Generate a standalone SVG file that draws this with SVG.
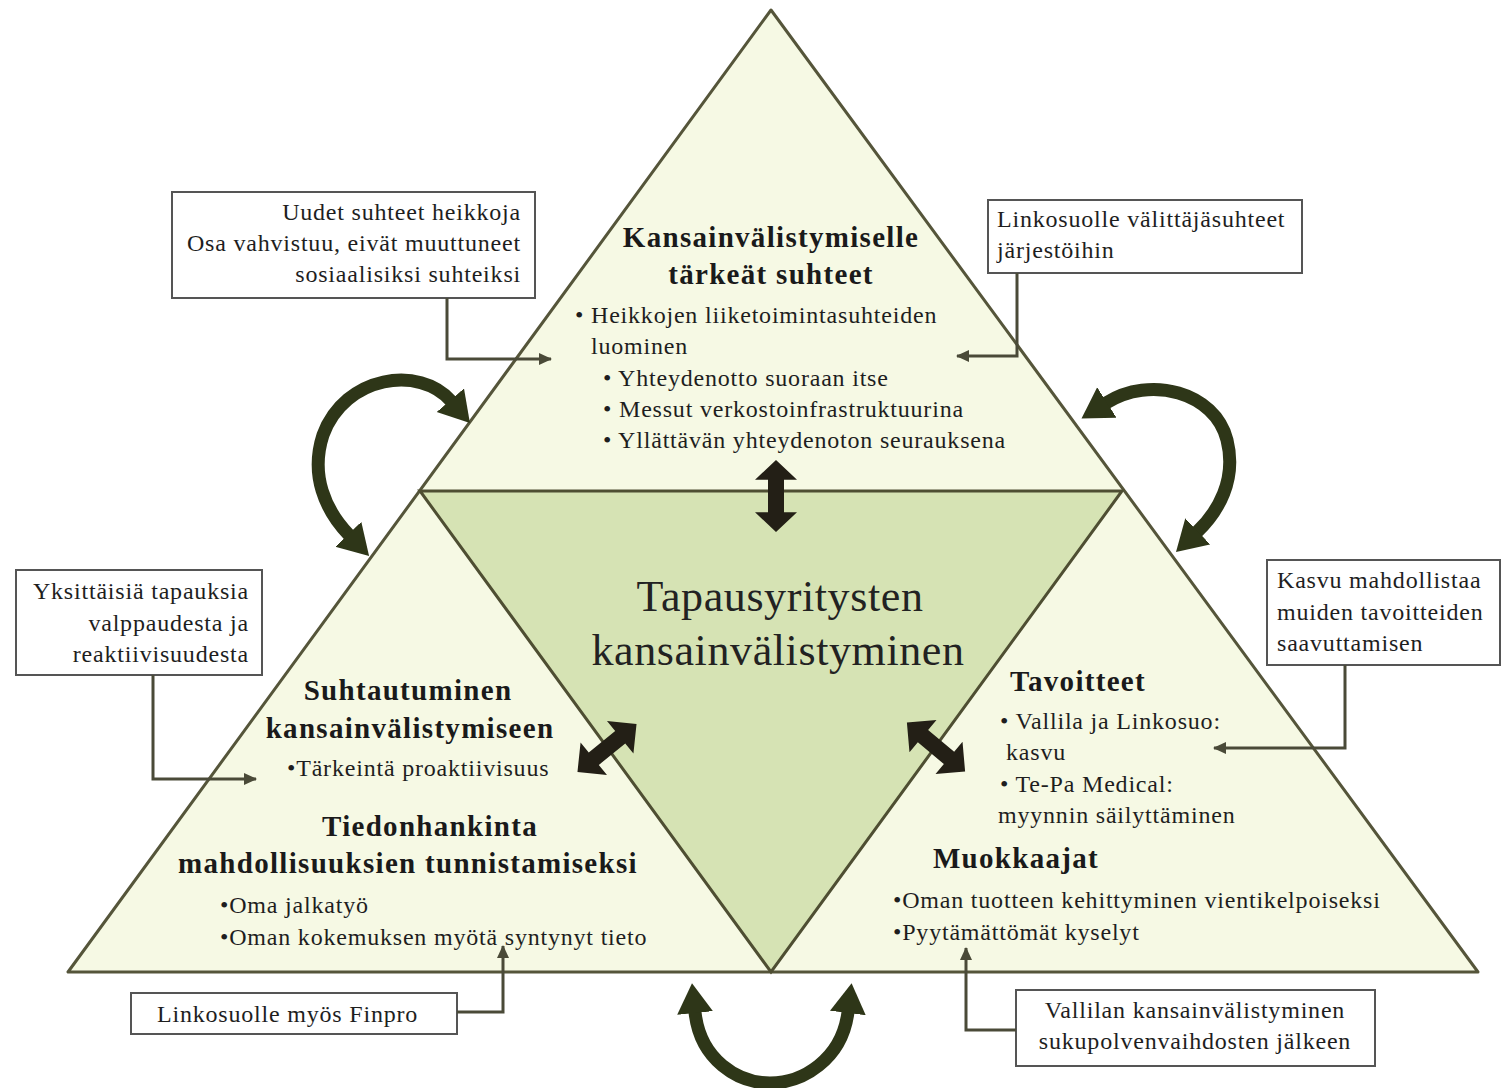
<svg xmlns="http://www.w3.org/2000/svg" width="1501" height="1088" viewBox="0 0 1501 1088">
<style>
.tri{fill:#f6f9e4;stroke:#55553a;stroke-width:3;stroke-linejoin:round}
.inner{fill:#d6e3b4;stroke:#4e4e32;stroke-width:3}
.box{fill:#ffffff;stroke:#555555;stroke-width:2}
.t{font-family:"Liberation Serif",serif;font-size:24px;letter-spacing:0.8px;fill:#1e1e1e}
.h{font-family:"Liberation Serif",serif;font-size:29px;letter-spacing:1.3px;font-weight:bold;fill:#1a1a1a}
.big{font-family:"Liberation Serif",serif;font-size:44px;letter-spacing:0.6px;fill:#222}
.con{fill:none;stroke:#4a4a38;stroke-width:3}
.curve{fill:none;stroke:#2e3618;stroke-width:13}
.dbl{fill:#231f16}
</style>
<defs>
<marker id="ah" markerUnits="userSpaceOnUse" markerWidth="14" markerHeight="14" refX="12" refY="6" orient="auto"><path d="M0,0 L13,6 L0,12 z" fill="#4a4a38"/></marker>
<marker id="big" markerUnits="userSpaceOnUse" markerWidth="32" markerHeight="38" refX="1" refY="18" orient="auto-start-reverse"><path d="M0,0 L30,18 L0,36 z" fill="#2e3618"/></marker>
<polygon id="da" points="-38,0 -17,-21 -17,-8 17,-8 17,-21 38,0 17,21 17,8 -17,8 -17,21"/>
</defs>
<g id="triangles">
<polygon class="tri" points="771,10 68,972 1478,972"/>
<polygon class="inner" points="420,491 1122,491 771,972"/>
</g>
<g id="top-node">
<text class="h" x="771" y="247" text-anchor="middle">Kansainvälistymiselle</text>
<text class="h" x="771" y="284" text-anchor="middle">tärkeät suhteet</text>
<text class="t" x="575" y="323">• Heikkojen liiketoimintasuhteiden</text>
<text class="t" x="591" y="354">luominen</text>
<text class="t" x="603" y="386">• Yhteydenotto suoraan itse</text>
<text class="t" x="603" y="417">• Messut verkostoinfrastruktuurina</text>
<text class="t" x="603" y="448">• Yllättävän yhteydenoton seurauksena</text>
</g>
<g id="center-node">
<text class="big" x="780" y="611" text-anchor="middle">Tapausyritysten</text>
<text class="big" x="778" y="665" text-anchor="middle">kansainvälistyminen</text>
</g>
<g id="left-node">
<text class="h" x="408" y="700" text-anchor="middle">Suhtautuminen</text>
<text class="h" x="410" y="738" text-anchor="middle">kansainvälistymiseen</text>
<text class="t" x="287" y="776">•Tärkeintä proaktiivisuus</text>
<text class="h" x="430" y="836" text-anchor="middle">Tiedonhankinta</text>
<text class="h" x="408" y="873" text-anchor="middle">mahdollisuuksien tunnistamiseksi</text>
<text class="t" x="220" y="913">•Oma jalkatyö</text>
<text class="t" x="220" y="945">•Oman kokemuksen myötä syntynyt tieto</text>
</g>
<g id="right-node">
<text class="h" x="1078" y="691" text-anchor="middle">Tavoitteet</text>
<text class="t" x="1000" y="729">• Vallila ja Linkosuo:</text>
<text class="t" x="1006" y="760">kasvu</text>
<text class="t" x="1000" y="792">• Te-Pa Medical:</text>
<text class="t" x="998" y="823">myynnin säilyttäminen</text>
<text class="h" x="1016" y="868" text-anchor="middle">Muokkaajat</text>
<text class="t" x="893" y="908">•Oman tuotteen kehittyminen vientikelpoiseksi</text>
<text class="t" x="893" y="940">•Pyytämättömät kyselyt</text>
</g>
<g id="note-top-left">
<rect class="box" x="172" y="192" width="363" height="106"/>
<text class="t" x="521" y="220" text-anchor="end">Uudet suhteet heikkoja</text>
<text class="t" x="521" y="251" text-anchor="end">Osa vahvistuu, eivät muuttuneet</text>
<text class="t" x="521" y="282" text-anchor="end">sosiaalisiksi suhteiksi</text>
</g>
<g id="note-top-right">
<rect class="box" x="988" y="200" width="314" height="73"/>
<text class="t" x="997" y="227">Linkosuolle välittäjäsuhteet</text>
<text class="t" x="997" y="258">järjestöihin</text>
</g>
<g id="note-left">
<rect class="box" x="16" y="570" width="246" height="105"/>
<text class="t" x="249" y="599" text-anchor="end">Yksittäisiä tapauksia</text>
<text class="t" x="249" y="631" text-anchor="end">valppaudesta ja</text>
<text class="t" x="249" y="662" text-anchor="end">reaktiivisuudesta</text>
</g>
<g id="note-right">
<rect class="box" x="1267" y="560" width="233" height="105"/>
<text class="t" x="1277" y="588">Kasvu mahdollistaa</text>
<text class="t" x="1277" y="620">muiden tavoitteiden</text>
<text class="t" x="1277" y="651">saavuttamisen</text>
</g>
<g id="note-bottom-left">
<rect class="box" x="131" y="993" width="326" height="41"/>
<text class="t" x="157" y="1022">Linkosuolle myös Finpro</text>
</g>
<g id="note-bottom-right">
<rect class="box" x="1016" y="990" width="359" height="76"/>
<text class="t" x="1195" y="1018" text-anchor="middle">Vallilan kansainvälistyminen</text>
<text class="t" x="1195" y="1049" text-anchor="middle">sukupolvenvaihdosten jälkeen</text>
</g>
<g id="connectors">
<path class="con" marker-end="url(#ah)" d="M447,298 V359 H551"/>
<path class="con" marker-end="url(#ah)" d="M1017,273 V356 H957"/>
<path class="con" marker-end="url(#ah)" d="M153,675 V779 H256"/>
<path class="con" marker-end="url(#ah)" d="M1345,665 V748 H1214"/>
<path class="con" marker-end="url(#ah)" d="M457,1012 H503 V946"/>
<path class="con" marker-end="url(#ah)" d="M1016,1030 H966 V948"/>
<path class="curve" marker-start="url(#big)" marker-end="url(#big)" d="M451,401 C420,365 345,375 323,435 C310,475 325,510 349,535"/>
<path class="curve" marker-start="url(#big)" marker-end="url(#big)" d="M1106,403 C1150,375 1215,392 1227,440 C1237,480 1218,512 1197,532"/>
<path class="curve" marker-start="url(#big)" marker-end="url(#big)" d="M695,1012 C700,1060 738,1083 770,1083 C802,1083 842,1060 848,1012"/>
<use href="#da" class="dbl" transform="translate(776,496) rotate(90) scale(0.95,1)"/>
<use href="#da" class="dbl" transform="translate(607,748) rotate(-39)"/>
<use href="#da" class="dbl" transform="translate(936,747) rotate(40)"/>
</g>
</svg>
